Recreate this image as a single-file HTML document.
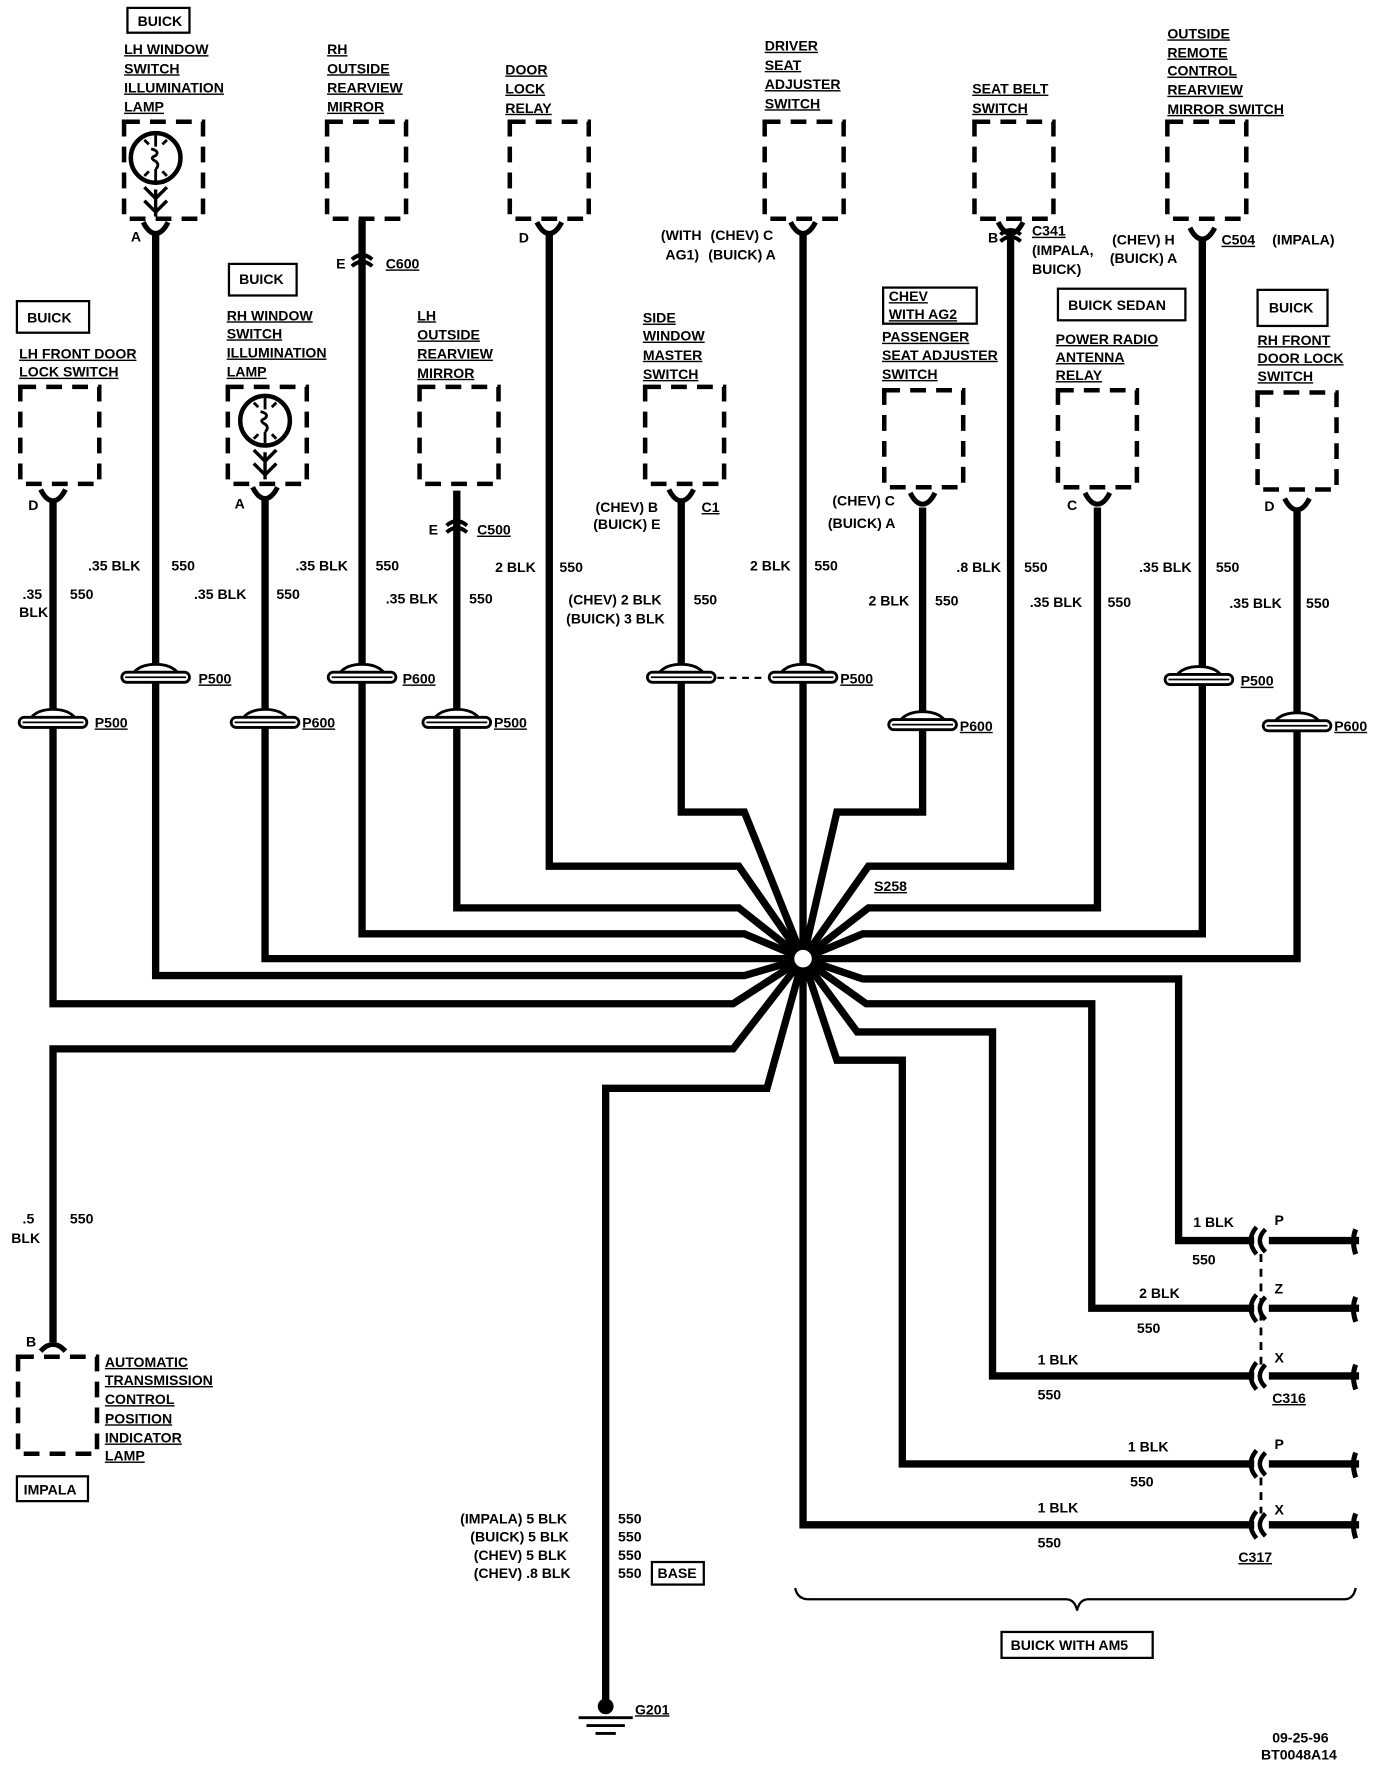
<!DOCTYPE html>
<html><head><meta charset="utf-8"><style>
html,body{margin:0;padding:0;background:#fff}
svg{display:block}
text{font-family:"Liberation Sans",sans-serif;font-weight:bold;font-size:12.5px;fill:#000}
.u{text-decoration:underline}
</style></head><body>
<svg width="1376" height="1770" viewBox="0 0 1220 1569.4" preserveAspectRatio="none" xmlns="http://www.w3.org/2000/svg">
<defs>
<path id="box" d="M0,0 H70 V86 H0 Z" fill="none" stroke="#000" stroke-width="4" stroke-dasharray="14,9"/>
<path id="fem" d="M-11,-8 Q-6,2 0,2 Q6,2 11,-8" fill="none" stroke="#000" stroke-width="4.5"/>
<g id="inl"><path d="M-20,-3 Q-14,-11 0,-11 Q14,-11 20,-3" fill="#fff" stroke="#000" stroke-width="2.5"/><rect x="-30" y="-4" width="60" height="9" rx="4.5" fill="#fff" stroke="#000" stroke-width="2.5"/><line x1="-27" y1="0.5" x2="27" y2="0.5" stroke="#000" stroke-width="1.5"/></g>
<g id="mid"><path d="M-9,-2 Q0,-10 9,-2" fill="none" stroke="#000" stroke-width="3.5"/><path d="M-9,4 Q0,-4 9,4" fill="none" stroke="#000" stroke-width="3.5"/></g>
<g id="rc"><path d="M-2,-12 Q-12,0 -2,12" fill="none" stroke="#000" stroke-width="4"/><path d="M6,-10 Q-4,0 6,10" fill="none" stroke="#000" stroke-width="4"/><path d="M86,-10 Q82,0 86,12" fill="none" stroke="#000" stroke-width="4.5"/></g>
<g id="lamp"><circle cx="0" cy="0" r="22" fill="none" stroke="#000" stroke-width="4"/><path d="M0,-20 V-10 M-4,-8 Q4,-6 0,-2 Q-6,0 0,3 Q4,6 0,10 M0,10 V20 M-10,-16 L-6,-12 M10,-16 L6,-12 M-10,16 L-6,12 M10,16 L6,12" fill="none" stroke="#000" stroke-width="2.5"/><path d="M-10,26 L0,36 L10,26 M-10,38 L0,48 L10,38 M0,28 V52" fill="none" stroke="#000" stroke-width="3"/></g>
</defs>
<g fill="none" stroke="#000" stroke-width="6.5" stroke-linejoin="miter">
<polyline points="47,445 47,890 650,890 712,850"/>
<polyline points="138,205 138,865 660,865 712,850"/>
<polyline points="235,440 235,850 712,850"/>
<polyline points="321,195 321,828 660,828 712,850"/>
<polyline points="405,435 405,805 655,805 712,850"/>
<polyline points="487,205 487,768 655,768 712,850"/>
<polyline points="604,445 604,720 660,720 712,850"/>
<polyline points="712,205 712,1352 1112,1352"/>
<polyline points="818,450 818,720 742,720 712,850"/>
<polyline points="896,205 896,768 770,768 712,850"/>
<polyline points="973,450 973,805 770,805 712,850"/>
<polyline points="1066,210 1066,828 765,828 712,850"/>
<polyline points="1150,450 1150,850 712,850"/>
<polyline points="712,850 765,868 1045,868 1045,1100 1112,1100"/>
<polyline points="712,850 768,890 968,890 968,1160 1112,1160"/>
<polyline points="712,850 760,915 880,915 880,1220 1112,1220"/>
<polyline points="712,850 742,940 800,940 800,1298 1112,1298"/>
<polyline points="712,850 650,930 47,930 47,1190"/>
<polyline points="712,850 680,965 537,965 537,1510"/>
<line x1="1125" y1="1100" x2="1205" y2="1100"/>
<line x1="1125" y1="1160" x2="1205" y2="1160"/>
<line x1="1125" y1="1220" x2="1205" y2="1220"/>
<line x1="1125" y1="1298" x2="1205" y2="1298"/>
<line x1="1125" y1="1352" x2="1205" y2="1352"/>
</g>
<circle cx="712" cy="850" r="9" fill="#fff" stroke="#000" stroke-width="2.5"/>
<use href="#box" x="110" y="108"/><use href="#box" x="290" y="108"/><use href="#box" x="452" y="108"/><use href="#box" x="678" y="108"/><use href="#box" x="864" y="108"/><use href="#box" x="1035" y="108"/>
<use href="#box" x="18" y="343"/><use href="#box" x="202" y="343"/><use href="#box" x="372" y="343"/><use href="#box" x="572" y="343"/><use href="#box" x="784" y="346"/><use href="#box" x="938" y="346"/><use href="#box" x="1115" y="348"/><use href="#box" x="16" y="1203"/>
<use href="#lamp" x="138" y="140"/><use href="#lamp" x="235" y="373"/>
<use href="#fem" x="138" y="205"/><use href="#fem" x="487" y="205"/><use href="#fem" x="712" y="205"/><use href="#fem" x="896" y="205"/><use href="#fem" x="1066" y="210"/>
<use href="#fem" x="47" y="442"/><use href="#fem" x="235" y="440"/><use href="#fem" x="604" y="442"/><use href="#fem" x="818" y="445"/><use href="#fem" x="973" y="445"/><use href="#fem" x="1150" y="450"/>
<path d="M36,1198 Q47,1186 58,1198" fill="none" stroke="#000" stroke-width="4.5"/>
<use href="#mid" x="321" y="232"/><use href="#mid" x="405" y="468"/><use href="#mid" x="896" y="210"/>
<use href="#inl" x="47" y="640"/><use href="#inl" x="138" y="600"/><use href="#inl" x="235" y="640"/><use href="#inl" x="321" y="600"/><use href="#inl" x="405" y="640"/><use href="#inl" x="604" y="600"/><use href="#inl" x="712" y="600"/><use href="#inl" x="818" y="642"/><use href="#inl" x="1063" y="602"/><use href="#inl" x="1150" y="643"/>
<line x1="636" y1="601" x2="680" y2="601" stroke="#000" stroke-width="2" stroke-dasharray="6,5"/>
<use href="#rc" x="1116" y="1100"/><use href="#rc" x="1116" y="1160"/><use href="#rc" x="1116" y="1220"/><use href="#rc" x="1116" y="1298"/><use href="#rc" x="1116" y="1352"/>
<line x1="1118" y1="1112" x2="1118" y2="1210" stroke="#000" stroke-width="2.5" stroke-dasharray="7,6"/>
<line x1="1118" y1="1310" x2="1118" y2="1342" stroke="#000" stroke-width="2.5" stroke-dasharray="7,6"/>
<path d="M705,1408 Q707,1418 717,1418 H945 Q953,1418 955,1428 Q957,1418 965,1418 H1192 Q1200,1418 1202,1408" fill="none" stroke="#000" stroke-width="2"/>
<circle cx="537" cy="1513" r="7" fill="#000"/>
<path d="M513,1523 H561 M520,1530 H554 M528,1537 H546" stroke="#000" stroke-width="2.5"/>
<g fill="none" stroke="#000" stroke-width="2">
<rect x="113" y="7" width="55" height="22"/><rect x="15" y="267" width="64" height="28"/><rect x="203" y="234" width="60" height="28"/><rect x="783" y="255" width="83" height="32"/><rect x="938" y="256" width="113" height="28"/><rect x="1115" y="257" width="62" height="32"/><rect x="15" y="1309" width="63" height="22"/><rect x="578" y="1385" width="46" height="20"/><rect x="888" y="1447" width="134" height="23"/>
</g>
<text x="122" y="23">BUICK</text>
<text x="110" y="48" class="u">LH WINDOW</text><text x="110" y="65" class="u">SWITCH</text><text x="110" y="82" class="u">ILLUMINATION</text><text x="110" y="99" class="u">LAMP</text>
<text x="290" y="48" class="u">RH</text><text x="290" y="65" class="u">OUTSIDE</text><text x="290" y="82" class="u">REARVIEW</text><text x="290" y="99" class="u">MIRROR</text>
<text x="448" y="66" class="u">DOOR</text><text x="448" y="83" class="u">LOCK</text><text x="448" y="100" class="u">RELAY</text>
<text x="678" y="45" class="u">DRIVER</text><text x="678" y="62" class="u">SEAT</text><text x="678" y="79" class="u">ADJUSTER</text><text x="678" y="96" class="u">SWITCH</text>
<text x="862" y="83" class="u">SEAT BELT</text><text x="862" y="100" class="u">SWITCH</text>
<text x="1035" y="34" class="u">OUTSIDE</text><text x="1035" y="51" class="u">REMOTE</text><text x="1035" y="67" class="u">CONTROL</text><text x="1035" y="84" class="u">REARVIEW</text><text x="1035" y="101" class="u">MIRROR SWITCH</text>
<text x="116" y="214" font-size="11">A</text><text x="460" y="215" font-size="11">D</text>
<text x="586" y="213" font-size="11">(WITH</text><text x="590" y="230" font-size="11">AG1)</text><text x="630" y="213" font-size="11">(CHEV)  C</text><text x="628" y="230" font-size="11">(BUICK)  A</text>
<text x="876" y="215" font-size="11">B</text><text x="915" y="209" class="u" font-size="11">C341</text><text x="915" y="226" font-size="11">(IMPALA,</text><text x="915" y="243" font-size="11">BUICK)</text>
<text x="986" y="217" font-size="11">(CHEV)  H</text><text x="984" y="233" font-size="11">(BUICK)  A</text><text x="1083" y="217" class="u" font-size="11">C504</text><text x="1128" y="217" font-size="11">(IMPALA)</text>
<text x="298" y="238" font-size="11">E</text><text x="342" y="238" class="u" font-size="11">C600</text>
<text x="212" y="252">BUICK</text>
<text x="201" y="284" class="u">RH WINDOW</text><text x="201" y="300" class="u">SWITCH</text><text x="201" y="317" class="u">ILLUMINATION</text><text x="201" y="334" class="u">LAMP</text>
<text x="24" y="286">BUICK</text><text x="17" y="318" class="u">LH FRONT DOOR</text><text x="17" y="334" class="u">LOCK SWITCH</text>
<text x="370" y="284" class="u">LH</text><text x="370" y="301" class="u">OUTSIDE</text><text x="370" y="318" class="u">REARVIEW</text><text x="370" y="335" class="u">MIRROR</text>
<text x="570" y="286" class="u">SIDE</text><text x="570" y="302" class="u">WINDOW</text><text x="570" y="319" class="u">MASTER</text><text x="570" y="336" class="u">SWITCH</text>
<text x="788" y="267" class="u" font-size="11.5">CHEV</text><text x="788" y="283" class="u" font-size="11.5">WITH  AG2</text>
<text x="782" y="303" class="u">PASSENGER</text><text x="782" y="319" class="u">SEAT  ADJUSTER</text><text x="782" y="336" class="u">SWITCH</text>
<text x="947" y="275">BUICK SEDAN</text><text x="936" y="305" class="u">POWER  RADIO</text><text x="936" y="321" class="u">ANTENNA</text><text x="936" y="337" class="u">RELAY</text>
<text x="1125" y="277">BUICK</text><text x="1115" y="306" class="u">RH  FRONT</text><text x="1115" y="322" class="u">DOOR LOCK</text><text x="1115" y="338" class="u">SWITCH</text>
<text x="25" y="452" font-size="11">D</text><text x="208" y="451" font-size="11">A</text>
<text x="380" y="474" font-size="11">E</text><text x="423" y="474" class="u" font-size="11">C500</text>
<text x="528" y="454" font-size="11">(CHEV)  B</text><text x="526" y="469" font-size="11">(BUICK)  E</text><text x="622" y="454" class="u" font-size="11">C1</text>
<text x="738" y="448" font-size="11">(CHEV)  C</text><text x="734" y="468" font-size="11">(BUICK)  A</text>
<text x="946" y="452" font-size="11">C</text><text x="1121" y="453" font-size="11">D</text>
<text x="20" y="531">.35</text><text x="17" y="547">BLK</text><text x="62" y="531">550</text>
<text x="78" y="506">.35 BLK</text><text x="152" y="506">550</text>
<text x="172" y="531">.35 BLK</text><text x="245" y="531">550</text>
<text x="262" y="506">.35 BLK</text><text x="333" y="506">550</text>
<text x="342" y="535">.35 BLK</text><text x="416" y="535">550</text>
<text x="439" y="507">2 BLK</text><text x="496" y="507">550</text>
<text x="504" y="536">(CHEV) 2 BLK</text><text x="502" y="553">(BUICK) 3 BLK</text><text x="615" y="536">550</text>
<text x="665" y="506">2 BLK</text><text x="722" y="506">550</text>
<text x="770" y="537">2 BLK</text><text x="829" y="537">550</text>
<text x="848" y="507">.8 BLK</text><text x="908" y="507">550</text>
<text x="913" y="538">.35 BLK</text><text x="982" y="538">550</text>
<text x="1010" y="507">.35 BLK</text><text x="1078" y="507">550</text>
<text x="1090" y="539">.35 BLK</text><text x="1158" y="539">550</text>
<text x="176" y="606" class="u" font-size="11.5">P500</text><text x="84" y="645" class="u" font-size="11.5">P500</text><text x="268" y="645" class="u" font-size="11.5">P600</text><text x="357" y="606" class="u" font-size="11.5">P600</text><text x="438" y="645" class="u" font-size="11.5">P500</text><text x="745" y="606" class="u" font-size="11.5">P500</text><text x="851" y="648" class="u" font-size="11.5">P600</text><text x="1100" y="608" class="u" font-size="11.5">P500</text><text x="1183" y="648" class="u" font-size="11.5">P600</text>
<text x="775" y="790" class="u">S258</text>
<text x="20" y="1085">.5</text><text x="10" y="1102">BLK</text><text x="62" y="1085">550</text>
<text x="23" y="1194" font-size="11">B</text>
<text x="93" y="1212" class="u" font-size="11.5">AUTOMATIC</text><text x="93" y="1228" class="u" font-size="11.5">TRANSMISSION</text><text x="93" y="1245" class="u" font-size="11.5">CONTROL</text><text x="93" y="1262" class="u" font-size="11.5">POSITION</text><text x="93" y="1279" class="u" font-size="11.5">INDICATOR</text><text x="93" y="1295" class="u" font-size="11.5">LAMP</text>
<text x="21" y="1325" font-size="11">IMPALA</text>
<text x="1058" y="1088">1  BLK</text><text x="1057" y="1121">550</text><text x="1130" y="1086" font-size="11">P</text>
<text x="1010" y="1151">2  BLK</text><text x="1008" y="1182">550</text><text x="1130" y="1147" font-size="11">Z</text>
<text x="920" y="1210">1  BLK</text><text x="920" y="1241">550</text><text x="1130" y="1208" font-size="11">X</text><text x="1128" y="1244" class="u" font-size="11.5">C316</text>
<text x="1000" y="1287">1  BLK</text><text x="1002" y="1318">550</text><text x="1130" y="1285" font-size="11">P</text>
<text x="920" y="1341">1  BLK</text><text x="920" y="1372">550</text><text x="1130" y="1343" font-size="11">X</text><text x="1098" y="1385" class="u" font-size="11.5">C317</text>
<text x="408" y="1351" font-size="12">(IMPALA)  5  BLK</text><text x="548" y="1351">550</text>
<text x="417" y="1367" font-size="12">(BUICK)  5  BLK</text><text x="548" y="1367">550</text>
<text x="420" y="1383" font-size="12">(CHEV)  5  BLK</text><text x="548" y="1383">550</text>
<text x="420" y="1399" font-size="12">(CHEV)  .8  BLK</text><text x="548" y="1399">550</text><text x="583" y="1399" font-size="11.5">BASE</text>
<text x="896" y="1463" font-size="11.5">BUICK  WITH  AM5</text>
<text x="563" y="1520" class="u" font-size="11.5">G201</text>
<text x="1128" y="1545" font-size="12">09-25-96</text><text x="1118" y="1560" font-size="12">BT0048A14</text>
</svg>
</body></html>
